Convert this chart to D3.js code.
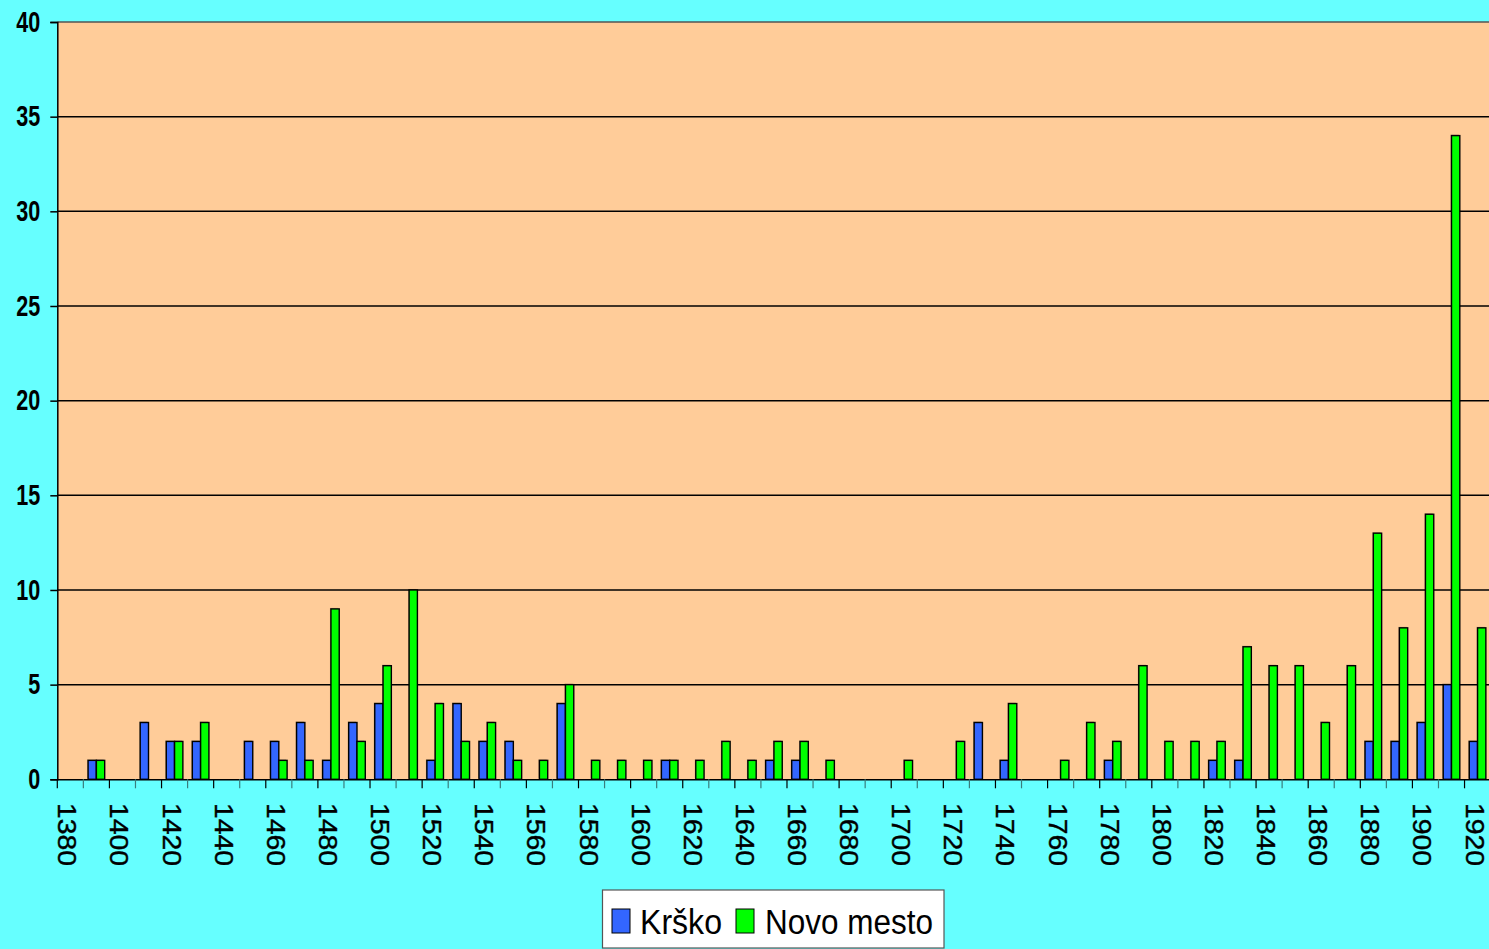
<!DOCTYPE html>
<html>
<head>
<meta charset="utf-8">
<script src="https://cdn.jsdelivr.net/npm/d3@7"></script>
<style>
  html, body { margin: 0; padding: 0; background: #66FFFF; }
  svg { display: block; }
</style>
</head>
<body>
<main></main>
<script>
(function() {
  const years = d3.range(1380, 1921, 10);
  const seriesNames = ["Krško", "Novo mesto"];
  const krsko = [0,1,0,3,2,2,0,2,2,3,1,3,4,0,1,4,2,2,0,4,0,0,0,1,0,0,0,1,1,0,0,0,0,0,0,3,1,0,0,0,1,0,0,0,1,1,0,0,0,0,2,2,3,5,2];
  const novoMesto = [0,1,0,0,2,3,0,0,1,1,9,2,6,10,4,2,3,1,1,5,1,1,1,1,1,2,1,2,2,1,0,0,1,0,2,0,4,0,1,3,2,6,2,2,2,7,6,6,3,6,13,8,14,34,8];
  const yTicks = [0, 5, 10, 15, 20, 25, 30, 35, 40];
  const colors = ["#3366FF", "#00FF00"];

  const w = 1489;
  const h = 949;
  const left = 57.3, right = 1490.6, top = 22, bottom = 779.3;
  const narrow = "'Liberation Sans Narrow', 'Arial Narrow', Arial, 'Liberation Sans', sans-serif";

  const rows = years.map((y, i) => ({ year: y, values: [krsko[i], novoMesto[i]] }));

  const svg = d3.select("main")
    .append("svg")
    .attr("width", w)
    .attr("height", h)
    .style("font-family", "Arial, 'Liberation Sans', sans-serif");

  svg.append("rect")
    .attr("width", w).attr("height", h)
    .attr("fill", "#66FFFF");

  const xScale = d3.scaleBand()
    .domain(years)
    .range([left, right])
    .padding(0);

  const xInner = d3.scaleBand()
    .domain(seriesNames)
    .range([0, xScale.bandwidth()])
    .paddingInner(0)
    .paddingOuter(0.57);

  const yScale = d3.scaleLinear()
    .domain([0, 40])
    .range([bottom, top]);

  // plot area
  svg.append("rect")
    .attr("x", left).attr("y", top)
    .attr("width", right - left).attr("height", bottom - top)
    .attr("fill", "#FFCC99");

  // gridlines
  svg.append("g")
    .selectAll("line")
    .data(yTicks.filter(d => d > 0))
    .enter()
    .append("line")
    .attr("x1", left).attr("x2", right)
    .attr("y1", d => yScale(d)).attr("y2", d => yScale(d))
    .attr("stroke", d => d === 40 ? "#555" : "#000")
    .attr("stroke-width", 1.5);

  // bars
  const groups = svg.append("g")
    .selectAll("g")
    .data(rows)
    .enter()
    .append("g")
    .attr("transform", d => "translate(" + xScale(d.year) + ",0)");

  const bars = groups.selectAll("g")
    .data(d => d.values.map((v, i) => ({ key: seriesNames[i], value: v, i: i })).filter(b => b.value > 0))
    .enter()
    .append("g");

  // faint shadow
  bars.append("rect")
    .attr("x", d => xInner(d.key) - 1)
    .attr("y", d => yScale(d.value) - 1)
    .attr("width", xInner.bandwidth())
    .attr("height", d => bottom - yScale(d.value))
    .attr("fill", "#000")
    .attr("opacity", 0.25);

  bars.append("rect")
    .attr("x", d => xInner(d.key))
    .attr("y", d => yScale(d.value))
    .attr("width", xInner.bandwidth())
    .attr("height", d => bottom - yScale(d.value))
    .attr("fill", d => colors[d.i])
    .attr("stroke", "#000")
    .attr("stroke-width", 1.4);

  // y axis
  const yAxis = d3.axisLeft(yScale)
    .tickValues(yTicks)
    .tickSize(7)
    .tickPadding(10);

  const yG = svg.append("g")
    .attr("transform", "translate(" + left + ",0)")
    .call(yAxis);
  yG.select(".domain").attr("stroke", "#000").attr("stroke-width", 1.5);
  yG.selectAll(".tick line").attr("stroke", "#000").attr("stroke-width", 1.5);
  yG.selectAll(".tick text")
    .attr("fill", "#000")
    .style("font-family", narrow)
    .style("font-weight", "bold")
    .style("font-size", "29px")
    .attr("textLength", d => String(d).length * 12)
    .attr("lengthAdjust", "spacingAndGlyphs")
    .attr("x", -17);

  // x axis
  const xAxis = d3.axisBottom(xScale)
    .tickSize(0)
    .tickFormat("");
  const xG = svg.append("g")
    .attr("transform", "translate(0," + bottom + ")")
    .call(xAxis);
  xG.select(".domain").attr("stroke", "#000").attr("stroke-width", 1.5);

  // ticks on band boundaries
  svg.append("g")
    .selectAll("line")
    .data(years.concat([null]))
    .enter()
    .append("line")
    .attr("x1", (d, i) => left + i * xScale.step())
    .attr("x2", (d, i) => left + i * xScale.step())
    .attr("y1", bottom)
    .attr("y2", bottom + 9)
    .attr("stroke", (d, i) => i % 2 === 0 ? "#000" : "#3a7d7d")
    .attr("stroke-width", 1.2);

  // x labels every 20 years, rotated
  svg.append("g")
    .selectAll("text")
    .data(years.filter(y => y % 20 === 0))
    .enter()
    .append("text")
    .attr("transform", d => "translate(" + (xScale(d) + xScale.bandwidth() / 2 - 3) + "," + 803 + ") rotate(90)")
    .attr("dominant-baseline", "central")
    .attr("textLength", 63)
    .attr("lengthAdjust", "spacingAndGlyphs")
    .style("font-size", "25px")
    .style("font-weight", "500")
    .attr("fill", "#000")
    .attr("stroke", "#000")
    .attr("stroke-width", 0.4)
    .text(d => d);

  // legend
  const legend = svg.append("g");
  legend.append("rect")
    .attr("x", 602.5).attr("y", 890)
    .attr("width", 341.5).attr("height", 58)
    .attr("fill", "#fff")
    .attr("stroke", "#555")
    .attr("stroke-width", 1.2);

  const legendItems = [
    { name: seriesNames[0], color: colors[0], sx: 612, tx: 640, tw: 82 },
    { name: seriesNames[1], color: colors[1], sx: 736, tx: 765, tw: 168 }
  ];

  legend.selectAll("rect.sw")
    .data(legendItems)
    .enter()
    .append("rect")
    .attr("class", "sw")
    .attr("x", d => d.sx).attr("y", 909)
    .attr("width", 18).attr("height", 24)
    .attr("fill", d => d.color)
    .attr("stroke", "#000")
    .attr("stroke-width", 1);

  legend.selectAll("text")
    .data(legendItems)
    .enter()
    .append("text")
    .attr("x", d => d.tx)
    .attr("y", 934)
    .attr("textLength", d => d.tw)
    .attr("lengthAdjust", "spacingAndGlyphs")
    .style("font-family", narrow)
    .style("font-size", "35px")
    .attr("fill", "#000")
    .text(d => d.name);
})()
</script>
</body>
</html>
